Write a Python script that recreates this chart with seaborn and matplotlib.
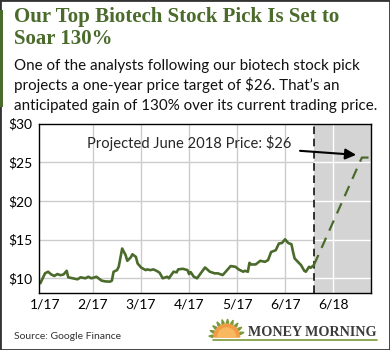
import pandas as pd
import numpy as np
import matplotlib
matplotlib.use("Agg")
import matplotlib.pyplot as plt
import seaborn as sns
from matplotlib.patches import Rectangle, Wedge, Polygon

# historical closing prices
hist_dates = [
    "2016-12-29", "2017-01-01", "2017-01-03", "2017-01-05", "2017-01-07", "2017-01-09",
    "2017-01-11", "2017-01-13", "2017-01-15", "2017-01-16", "2017-01-19", "2017-01-22",
    "2017-01-24", "2017-01-27", "2017-01-29", "2017-01-31", "2017-02-03", "2017-02-06",
    "2017-02-08", "2017-02-11", "2017-02-12", "2017-02-13", "2017-02-15", "2017-02-16",
    "2017-02-18", "2017-02-20", "2017-02-21", "2017-02-23", "2017-02-24", "2017-02-26",
    "2017-02-27", "2017-03-01", "2017-03-04", "2017-03-05", "2017-03-07", "2017-03-09",
    "2017-03-11", "2017-03-13", "2017-03-15", "2017-03-18", "2017-03-19", "2017-03-22",
    "2017-03-24", "2017-03-25", "2017-03-28", "2017-03-31", "2017-04-01", "2017-04-02",
    "2017-04-04", "2017-04-06", "2017-04-11", "2017-04-14", "2017-04-17", "2017-04-19",
    "2017-04-22", "2017-04-23", "2017-04-27", "2017-04-30", "2017-05-02", "2017-05-05",
    "2017-05-06", "2017-05-08", "2017-05-09", "2017-05-10", "2017-05-13", "2017-05-16",
    "2017-05-19", "2017-05-21", "2017-05-23", "2017-05-26", "2017-05-28", "2017-05-30",
    "2017-06-01", "2017-06-03", "2017-06-05", "2017-06-06", "2017-06-07", "2017-06-09",
    "2017-06-11", "2017-06-13", "2017-06-14", "2017-06-16", "2017-06-17", "2017-06-19",
]
hist_prices = [
    9.36, 10.64, 10.85, 10.5, 10.3, 10.55,
    10.4, 10.5, 10.97, 10.13, 10.0, 9.87,
    10.13, 10.0, 10.2, 10.0, 10.2, 9.7,
    9.6, 9.57, 9.7, 10.85, 11.06, 11.5,
    13.85, 13.0, 12.26, 12.7, 13.1, 12.77,
    11.92, 11.4, 11.06, 11.15, 11.06, 11.15,
    10.97, 10.72, 10.0, 10.2, 10.0, 10.85,
    10.77, 11.15, 11.23, 11.06, 10.55, 10.8,
    10.2, 10.0, 11.4, 10.85, 10.64, 10.64,
    10.42, 10.64, 11.58, 11.49, 11.15, 10.85,
    10.97, 10.85, 12.0, 11.79, 11.79, 12.26,
    12.13, 12.35, 13.4, 13.63, 14.49, 14.56,
    15.04, 14.56, 14.4, 13.4, 12.56, 12.13,
    11.7, 10.97, 10.85, 11.49, 11.36, 11.7,
]

# projection to the one-year target
proj_dates = ["2017-06-19", "2018-06-19", "2018-06-30"]
proj_prices = [11.7, 25.6, 25.6]

tick_dates = ["2017-01-01", "2017-02-01", "2017-03-01", "2017-04-01",
              "2017-05-01", "2017-06-01", "2018-06-01"]
tick_labels = ["1/17", "2/17", "3/17", "4/17", "5/17", "6/17", "6/18"]
y_ticks = [10, 15, 20, 25, 30]
y_labels = ["$10", "$15", "$20", "$25", "$30"]

green = "#4b6b2c"


def month_pos(d):
    # months since Jan 2017; the year 6/17 -> 6/18 is squeezed into one step
    d = pd.Timestamp(d)
    pos = (d.year - 2017) * 12 + d.month - 1 + (d.day - 1) / d.days_in_month
    if d.year >= 2018:
        pos -= 11
    return pos


hist = pd.DataFrame({"pos": [month_pos(d) for d in hist_dates], "price": hist_prices})
proj = pd.DataFrame({"pos": [month_pos(d) for d in proj_dates], "price": proj_prices})
shade_start = month_pos(proj_dates[0])

sns.set_style("white")
plt.rcParams["font.family"] = ["Lato", "DejaVu Sans"]

fig = plt.figure(figsize=(3.9, 3.5), dpi=100)
ax = fig.add_axes([39 / 390, 1 - 292.7 / 350, 332 / 390, 169.2 / 350])

xmin, xmax = -0.125, 6.79
ax.set_xlim(xmin, xmax)
ax.set_ylim(8.14, 30)

# gridlines: grey on white, white inside the shaded projection area
tick_pos = [month_pos(d) for d in tick_dates]
for y in y_ticks[:-1]:
    ax.plot([xmin, shade_start], [y, y], color="#cccccc", lw=1.0, zorder=0.5)
    ax.plot([shade_start, xmax], [y, y], color="white", lw=1.0, zorder=1.5)
for p in tick_pos[1:]:
    inside = p > shade_start
    ax.axvline(p, color="white" if inside else "#cccccc", lw=1.0, zorder=1.5 if inside else 0.5)

ax.axvspan(shade_start, xmax, color="#d4d4d4", lw=0, zorder=1)
ax.axvline(shade_start, color="black", lw=1.1, ls=(0, (5, 3)), zorder=2)

sns.lineplot(data=hist, x="pos", y="price", ax=ax, color=green, lw=1.9, sort=False, zorder=3)
sns.lineplot(data=proj, x="pos", y="price", ax=ax, color=green, lw=1.6, sort=False,
             linestyle=(0, (5, 3.5)), zorder=3)

ax.set_xticks(tick_pos)
ax.set_xticklabels(tick_labels)
ax.set_yticks(y_ticks)
ax.set_yticklabels(y_labels)
ax.tick_params(length=0, labelsize=10, colors="black")
ax.tick_params(axis="y", pad=5)
ax.tick_params(axis="x", pad=4)
ax.set_xlabel("")
ax.set_ylabel("")
for s in ax.spines.values():
    s.set_color("black")
    s.set_linewidth(1.0)
    s.set_zorder(4)

ax.annotate("Projected June 2018 Price: $26", xy=(6.48, 25.95), xytext=(3.0, 27.5),
            ha="center", va="center", fontsize=10.6, zorder=5,
            arrowprops=dict(arrowstyle="-|>,head_length=0.6,head_width=0.3", color="black",
                            lw=1.5, shrinkA=4, shrinkB=0))

# header
fig.text(14 / 390, 1 - 22 / 350, "Our Top Biotech Stock Pick Is Set to", color=green,
         family="Liberation Serif", weight="bold", fontsize=15, va="baseline")
fig.text(14 / 390, 1 - 44 / 350, "Soar 130%", color=green,
         family="Liberation Serif", weight="bold", fontsize=15, va="baseline")
sub = ["One of the analysts following our biotech stock pick",
       "projects a one-year price target of $26. That\u2019s an",
       "anticipated gain of 130% over its current trading price."]
for i, line in enumerate(sub):
    fig.text(14 / 390, 1 - (70 + 20 * i) / 350, line, fontsize=10.9, color="#111111", va="baseline")

fig.text(14 / 390, 1 - 339 / 350, "Source: Google Finance", fontsize=7.5, color="#333333", va="baseline")

# logo
fig.text(248 / 390, 1 - 336 / 350, "MONEY MORNING", family="Liberation Serif", weight="bold",
         fontsize=10.2, color="#3a3a3a", va="baseline")
fig.add_artist(plt.Line2D([213 / 390, 377 / 390], [1 - 339.5 / 350] * 2, color="#7a9a3a", lw=1.2))
lax = fig.add_axes([205 / 390, 8 / 350, 40 / 390, 30 / 350])
lax.set_xlim(0, 40)
lax.set_ylim(0, 30)
lax.axis("off")
lax.add_patch(Wedge((21.7, 5), 13, 0, 180, color="#f39a45"))
lax.add_patch(Wedge((21.7, 5), 9, 0, 180, color="#f8b860"))
for a in np.deg2rad(np.arange(15, 180, 18)):
    c, s = np.cos(a), np.sin(a)
    lax.add_patch(Polygon([(21.7 + 14 * c - 1.2 * s, 5 + 14 * s + 1.2 * c),
                           (21.7 + 14 * c + 1.2 * s, 5 + 14 * s - 1.2 * c),
                           (21.7 + 18 * c, 5 + 18 * s)], color="#7a9a3a"))

# frame and left accent bar
fig.add_artist(Rectangle((0, 0), 1, 1, transform=fig.transFigure, fill=False, ec="#333333", lw=2))
fig.add_artist(Rectangle((0, 1 - 107 / 350), 3 / 390, 97 / 350, transform=fig.transFigure,
                         color=green, lw=0))

fig.savefig("out.png", dpi=100)
